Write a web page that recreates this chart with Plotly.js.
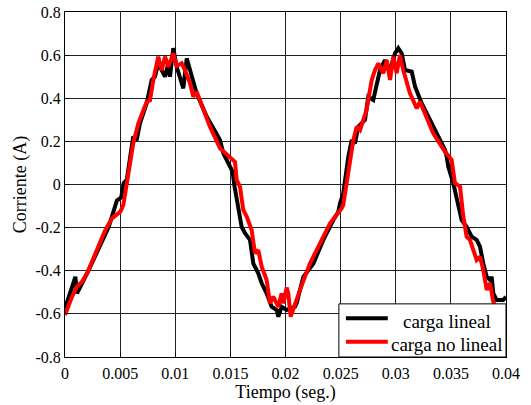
<!DOCTYPE html>
<html>
<head>
<meta charset="utf-8">
<script src="https://cdn.plot.ly/plotly-3.0.1.min.js"></script>
<style>html,body{margin:0;padding:0;background:#fff;}#chart{width:531px;height:405px;}</style>
</head>
<body>
<div id="chart"></div>
<script>
var blackT = [0, 0.0005, 0.00094, 0.00109, 0.00154, 0.00184, 0.00215, 0.00397, 0.0047, 0.0051, 0.00532, 0.0056, 0.0059, 0.00619, 0.0065, 0.0068, 0.0071, 0.00741, 0.00786, 0.00816, 0.00846, 0.00877, 0.00907, 0.00937, 0.00952, 0.00982, 0.01013, 0.01073, 0.01104, 0.01134, 0.01194, 0.01285, 0.01406, 0.01436, 0.01481, 0.0152, 0.01535, 0.01557, 0.01602, 0.01633, 0.01678, 0.01708, 0.01753, 0.01784, 0.01829, 0.01874, 0.0192, 0.01935, 0.01965, 0.0201, 0.02086, 0.02101, 0.02162, 0.02253, 0.02343, 0.02434, 0.02479, 0.02495, 0.02524, 0.0257, 0.026, 0.0263, 0.0266, 0.02721, 0.02751, 0.02796, 0.02827, 0.02857, 0.02902, 0.02948, 0.02993, 0.03023, 0.03054, 0.03084, 0.03145, 0.03175, 0.03235, 0.03295, 0.03371, 0.03447, 0.03462, 0.03476, 0.03522, 0.03567, 0.03598, 0.03643, 0.03689, 0.03734, 0.03764, 0.03794, 0.03825, 0.03855, 0.0387, 0.03885, 0.03915, 0.03975, 0.04];
var blackV = [-0.575, -0.489, -0.428, -0.505, -0.458, -0.42, -0.397, -0.196, -0.075, -0.06, 0.006, 0.021, 0.114, 0.222, 0.206, 0.284, 0.33, 0.377, 0.485, 0.5, 0.562, 0.531, 0.5, 0.562, 0.5, 0.632, 0.546, 0.446, 0.585, 0.531, 0.423, 0.315, 0.206, 0.145, 0.098, 0.06, 0.0, -0.072, -0.196, -0.226, -0.257, -0.366, -0.412, -0.458, -0.505, -0.567, -0.582, -0.613, -0.567, -0.582, -0.567, -0.551, -0.428, -0.366, -0.257, -0.165, -0.126, -0.087, -0.041, 0.129, 0.206, 0.191, 0.268, 0.3, 0.407, 0.392, 0.454, 0.531, 0.577, 0.531, 0.608, 0.632, 0.608, 0.531, 0.523, 0.454, 0.377, 0.315, 0.237, 0.16, 0.129, 0.083, 0.006, -0.087, -0.165, -0.196, -0.242, -0.257, -0.288, -0.366, -0.428, -0.443, -0.428, -0.505, -0.536, -0.536, -0.52];

var redT = [0, 0.00064, 0.00109, 0.00154, 0.0020, 0.00275, 0.00366, 0.00426, 0.00502, 0.00529, 0.0056, 0.00619, 0.00665, 0.00678, 0.00741, 0.00771, 0.00801, 0.00846, 0.00877, 0.00907, 0.00937, 0.00982, 0.01013, 0.01058, 0.01088, 0.01134, 0.01164, 0.01194, 0.01224, 0.01315, 0.01406, 0.01512, 0.01542, 0.01557, 0.01587, 0.01617, 0.01648, 0.01693, 0.01723, 0.01753, 0.01784, 0.01829, 0.01859, 0.01889, 0.01935, 0.01965, 0.0198, 0.02011, 0.02025, 0.02047, 0.02086, 0.02132, 0.02222, 0.02313, 0.02404, 0.0251, 0.02524, 0.0254, 0.02555, 0.02585, 0.02615, 0.02646, 0.02676, 0.02706, 0.02736, 0.02766, 0.02782, 0.02812, 0.02842, 0.02857, 0.02887, 0.02918, 0.02948, 0.02978, 0.03008, 0.03038, 0.03068, 0.03129, 0.03191, 0.0322, 0.03265, 0.0334, 0.03447, 0.03507, 0.03537, 0.03583, 0.03613, 0.03643, 0.03673, 0.03703, 0.03734, 0.03764, 0.03794, 0.03825, 0.03855, 0.03885, 0.0393, 0.04];
var redV = [-0.605, -0.52, -0.474, -0.451, -0.412, -0.319, -0.211, -0.157, -0.126, -0.095, 0.0, 0.19, 0.284, 0.30, 0.384, 0.39, 0.485, 0.593, 0.53, 0.593, 0.546, 0.608, 0.55, 0.562, 0.531, 0.469, 0.407, 0.43, 0.392, 0.268, 0.168, 0.122, 0.105, 0.021, -0.01, -0.118, -0.149, -0.211, -0.319, -0.304, -0.381, -0.443, -0.551, -0.52, -0.567, -0.505, -0.551, -0.478, -0.505, -0.613, -0.551, -0.489, -0.366, -0.273, -0.18, -0.11, -0.095, -0.041, 0.006, 0.098, 0.206, 0.268, 0.253, 0.30, 0.346, 0.438, 0.485, 0.531, 0.562, 0.546, 0.516, 0.577, 0.485, 0.593, 0.516, 0.6, 0.531, 0.423, 0.353, 0.384, 0.33, 0.237, 0.152, 0.114, 0.006, -0.01, -0.149, -0.242, -0.257, -0.304, -0.35, -0.335, -0.397, -0.489, -0.458, -0.544, -0.6, -0.6];

var seriesNames = ["carga lineal", "carga no lineal"];
var seriesColors = ["#000000", "#ff0000"];
var xTickVals = [0, 0.005, 0.01, 0.015, 0.02, 0.025, 0.03, 0.035, 0.04];
var xTickText = ["0", "0.005", "0.01", "0.015", "0.02", "0.025", "0.03", "0.035", "0.04"];
var yTickVals = [-0.8, -0.6, -0.4, -0.2, 0, 0.2, 0.4, 0.6, 0.8];
var yTickText = ["-0.8", "-0.6", "-0.4", "-0.2", "0", "0.2", "0.4", "0.6", "0.8"];

var FONT = "'Liberation Serif', 'Times New Roman', Times, serif";

var traces = [
  {x: blackT, y: blackV, mode: "lines", name: seriesNames[0], line: {color: seriesColors[0], width: 4}, showlegend: false},
  {x: redT, y: redV, mode: "lines", name: seriesNames[1], line: {color: seriesColors[1], width: 4}, showlegend: false}
];

var axisCommon = {
  showline: true, linecolor: "#000", linewidth: 1, mirror: true,
  showgrid: true, gridcolor: "#222", gridwidth: 1,
  zeroline: false, ticks: "inside", ticklen: 4, tickcolor: "#000",
  tickfont: {family: FONT, size: 16, color: "#000"}
};

// Legend box (Matlab-style) drawn in paper coordinates
var legX0 = 0.621, legX1 = 1, legY0 = 0, legY1 = 0.154;
var legRowY = [0.112, 0.044];
var legLineX = [0.637, 0.732];
var legTextX = [0.866, 0.866];
var legTextY = [0.104, 0.036];

var shapes = [
  {type: "rect", xref: "paper", yref: "paper", x0: legX0, x1: legX1, y0: legY0, y1: legY1,
   fillcolor: "#fff", line: {color: "#000", width: 1}, layer: "above"}
];
var annotations = [];
for (var i = 0; i < seriesNames.length; i++) {
  shapes.push({type: "line", xref: "paper", yref: "paper", x0: legLineX[0], x1: legLineX[1],
    y0: legRowY[i], y1: legRowY[i], line: {color: seriesColors[i], width: 4}, layer: "above"});
  annotations.push({xref: "paper", yref: "paper", x: legTextX[i], y: legTextY[i],
    xanchor: "center", yanchor: "middle", showarrow: false, text: seriesNames[i],
    font: {family: FONT, size: 19, color: "#000"}});
}

var layout = {
  width: 531, height: 405,
  margin: {l: 65, r: 25, t: 12, b: 48},
  paper_bgcolor: "#fff", plot_bgcolor: "#fff",
  font: {family: FONT, color: "#000"},
  showlegend: false,
  shapes: shapes,
  annotations: annotations,
  xaxis: Object.assign({}, axisCommon, {
    range: [0, 0.04], tickmode: "array", tickvals: xTickVals, ticktext: xTickText,
    ticklabelstandoff: 2,
    title: {text: "Tiempo (seg.)", font: {family: FONT, size: 18, color: "#000"}, standoff: 3},
    automargin: false
  }),
  yaxis: Object.assign({}, axisCommon, {
    range: [-0.8, 0.8], tickmode: "array", tickvals: yTickVals, ticktext: yTickText,
    title: {text: "Corriente (A)", font: {family: FONT, size: 18, color: "#000"}, standoff: 4},
    automargin: false
  })
};

Plotly.newPlot("chart", traces, layout, {displayModeBar: false, staticPlot: true});
</script>
</body>
</html>
